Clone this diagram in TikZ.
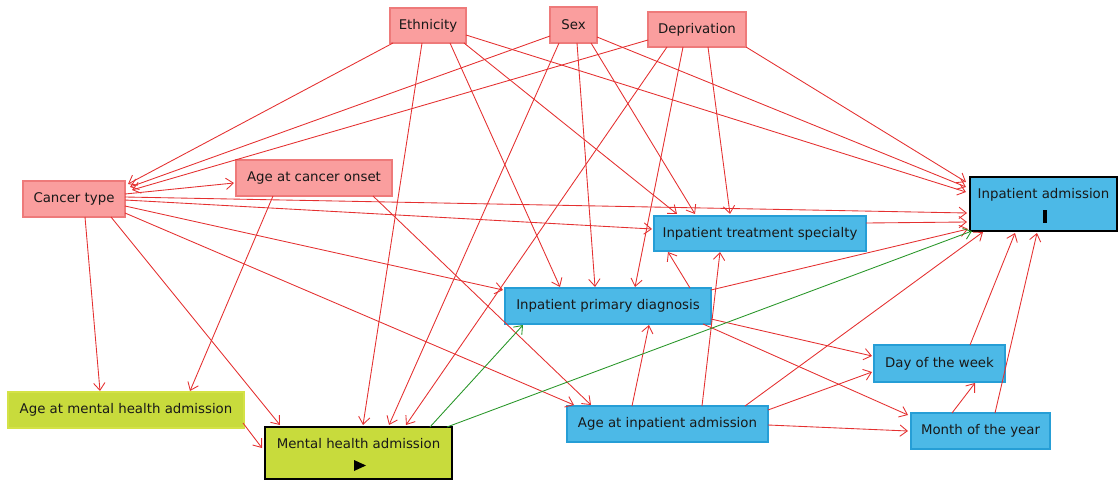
\documentclass[tikz,border=0pt]{standalone}
\usepackage{fontspec}
\setmainfont{DejaVu Sans}
\usetikzlibrary{arrows.meta}

\definecolor{pinkfill}{RGB}{250,158,158}
\definecolor{pinkline}{RGB}{238,122,122}
\definecolor{bluefill}{RGB}{76,185,231}
\definecolor{blueline}{RGB}{38,158,214}
\definecolor{limefill}{RGB}{200,219,60}
\definecolor{limeline}{RGB}{212,226,70}
\definecolor{edgered}{RGB}{228,48,48}
\definecolor{edgegreen}{RGB}{40,150,40}
\definecolor{txt}{RGB}{25,25,25}

% \conn[style]{from}{dx,dy}{to}{dx,dy}: straight edge between two nodes,
% end points given as offsets (in px) from the node centres
\newcommand{\conn}[5][rel]{\draw[#1] ([shift={(#3)}]#2.center) -- ([shift={(#5)}]#4.center);}

\begin{document}
\begin{tikzpicture}[x=0.75pt,y=-0.75pt,
  wh/.style 2 args={minimum width=#1*0.75pt, minimum height=#2*0.75pt},
  box/.style={rectangle, inner sep=0pt, line width=1.1pt, text=txt,
    font=\fontsize{10}{12}\selectfont},
  cause/.style={box, fill=pinkfill, draw=pinkline},
  other/.style={box, fill=bluefill, draw=blueline},
  anc/.style={box, fill=limefill, draw=limeline},
  lbl/.style={text=txt, font=\fontsize{10}{12}\selectfont, inner sep=0pt},
  rel/.style={draw=edgered, line width=0.65pt,
    -{Straight Barb[length=5.5pt,width=8.5pt,line width=0.65pt]}},
  causal/.style={rel, draw=edgegreen},
]
\useasboundingbox (0,0) rectangle (1120,481);

% variables
\node[cause, wh={76}{35}]  (eth) at (428,25.5)   {Ethnicity};
\node[cause, wh={47}{36}]  (sex) at (573.5,25)   {Sex};
\node[cause, wh={98}{35}]  (dep) at (697,29.5)   {Deprivation};
\node[cause, wh={102}{36}] (ct)  at (74,199)     {Cancer type};
\node[cause, wh={156}{36}] (aco) at (314,178)    {Age at cancer onset};
\node[other, wh={147}{54}, draw=black, line width=1.5pt,
  label={[lbl, yshift=6.75pt]center:Inpatient admission}] (ia) at (1043.5,204) {};
\node[other, wh={212}{35}] (its) at (760,233.5)  {Inpatient treatment specialty};
\node[other, wh={206}{36}] (ipd) at (608,306)    {Inpatient primary diagnosis};
\node[anc,   wh={236}{36}] (amha) at (126,410)   {Age at mental health admission};
\node[anc,   wh={187}{52}, draw=black, line width=2.2pt,
  label={[lbl, yshift=7.1pt]center:Mental health admission}] (mha) at (358.5,453) {};
\node[other, wh={201}{36}] (aia) at (667.5,424)  {Age at inpatient admission};
\node[other, wh={131}{37}] (dow) at (939.5,363.5) {Day of the week};
\node[other, wh={139}{36}] (moy) at (980.5,431)  {Month of the year};

% outcome and exposure markers
\fill[black] ([shift={(-0.5,6)}]ia.center) rectangle ([shift={(3.5,19)}]ia.center);
\fill[black] ([shift={(-4.5,7)}]mha.center) -- ([shift={(-4.5,18)}]mha.center)
  -- ([shift={(7.5,12.5)}]mha.center) -- cycle;

% edges out of Ethnicity, Sex and Deprivation
\conn{eth}{-35,17.5}{ct}{54,-15}
\conn{sex}{-23.5,11}{ct}{56,-12}
\conn{dep}{-49,10.5}{ct}{58,-9}
\conn{eth}{-6,17.5}{mha}{4.5,-28}
\conn{eth}{22,17.5}{ipd}{-48,-19}
\conn{eth}{36,17.5}{its}{-83,-19.5}
\conn{eth}{38,9.5}{ia}{-77.5,-12}
\conn{sex}{-14.5,18}{mha}{30.5,-28}
\conn{sex}{3.5,18}{ipd}{-13,-19}
\conn{sex}{17.5,18}{its}{-65,-19.5}
\conn{sex}{23.5,12}{ia}{-77.5,-17}
\conn{dep}{-30,17.5}{mha}{47.5,-28}
\conn{dep}{-14,17.5}{ipd}{27,-19}
\conn{dep}{11,17.5}{its}{-30,-19.5}
\conn{dep}{49,17.5}{ia}{-77.5,-22}

% edges out of Cancer type and Age at cancer onset
\conn{ct}{51,-5}{aco}{-80,5}
\conn{ct}{51,-2}{ia}{-76.5,9}
\conn{ct}{51,1}{its}{-108,-4.5}
\conn{ct}{51,7}{ipd}{-105,-16}
\conn{ct}{51,14}{aia}{-93.5,-19}
\conn{ct}{37,18}{mha}{-78.5,-28}
\conn{ct}{11,18}{amha}{-26,-19}
\conn{aco}{-41,18}{amha}{64,-19}
\conn{aco}{59,18}{aia}{-76.5,-19}

% edges among the inpatient variables
\conn{its}{106,-10.5}{ia}{-76.5,18}
\conn{ipd}{82,-18}{its}{-92,18.5}
\conn{ipd}{103,-16}{ia}{-75.5,25}
\conn{ipd}{103,13}{dow}{-67.5,-7.5}
\conn{ipd}{95,18}{moy}{-72.5,-16}
\conn{aia}{-35.5,-18}{ipd}{41,19}
\conn{aia}{34.5,-18}{its}{-40,18.5}
\conn{aia}{77.5,-18}{ia}{-60.5,28}
\conn{aia}{100.5,-14}{dow}{-67.5,8.5}
\conn{aia}{100.5,1}{moy}{-72.5,0}
\conn{moy}{-28.5,-18}{dow}{35.5,19.5}
\conn{moy}{14.5,-18}{ia}{-6.5,29}
\conn{dow}{30.5,-18.5}{ia}{-28.5,29}

% edges into and out of Mental health admission
\conn{amha}{117,13}{mha}{-96.5,-5}
\conn[causal]{mha}{71.5,-26}{ipd}{-85,19}
\conn[causal]{mha}{88.5,-26}{ia}{-71.5,27}
\end{tikzpicture}
\end{document}
